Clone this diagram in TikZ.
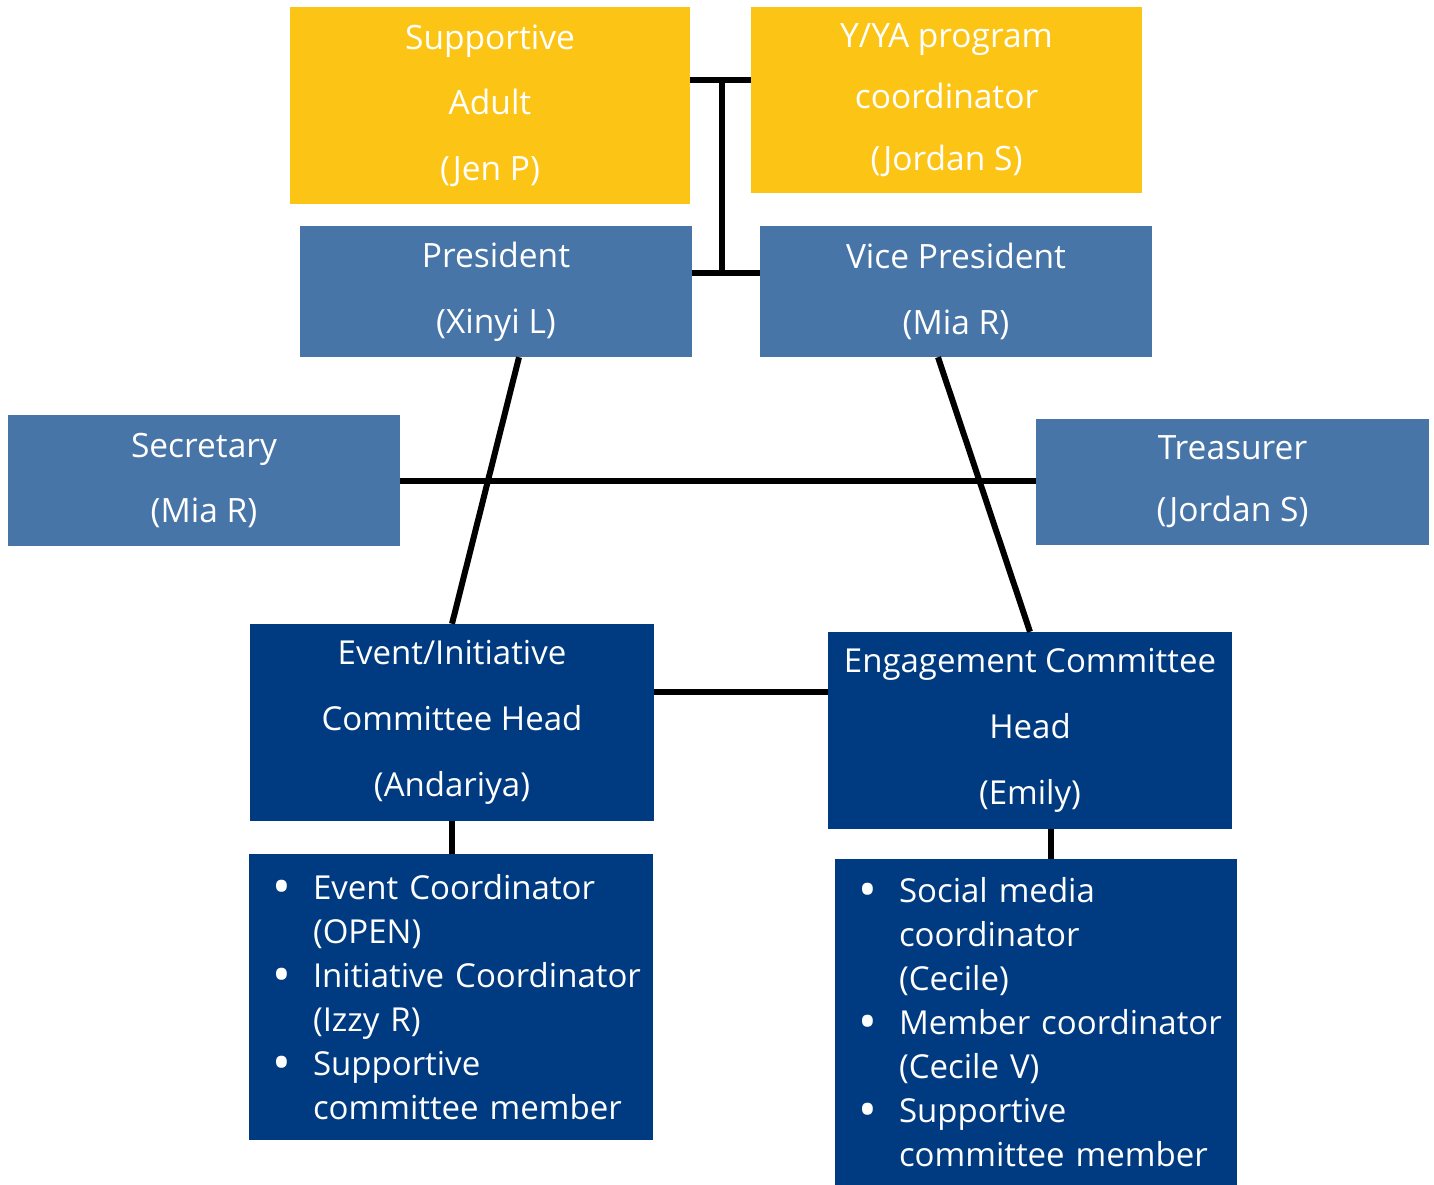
\documentclass[tikz,border=0pt]{standalone}
\usepackage{fontspec}
\setmainfont{Open Sans}
\usetikzlibrary{calc}
\definecolor{gold}{RGB}{252,197,22}
\definecolor{midblue}{RGB}{72,117,168}
\definecolor{darkblue}{RGB}{0,59,130}
\newcommand{\bigdot}{\smash{\makebox[0pt][c]{\raisebox{-5pt}{\fontsize{50}{50}\selectfont •}}}}
\newcommand{\bl}[1]{\mbox{\makebox[37pt][l]{\hspace*{6pt}\bigdot}#1}}
\newcommand{\cl}[1]{\mbox{\hspace*{37pt}#1}}
\tikzset{
  box/.style={rectangle, inner sep=0pt, text=white, align=center},
  goldbox/.style={box, fill=gold},
  midbox/.style={box, fill=midblue},
  darkbox/.style={box, fill=darkblue},
  listbox/.style={rectangle, fill=darkblue, text=white, inner ysep=0pt, inner xsep=27pt, align=left},
  conn/.style={line width=6pt, line cap=butt, draw=black}
}
\begin{document}
\begin{tikzpicture}[x=1pt, y=-1pt]
\useasboundingbox (0,0) rectangle (1434,1185);
\fill[white] (0,0) rectangle (1434,1185);

\node[goldbox, minimum width=400pt, minimum height=197pt, font=\fontsize{33.5}{65.5}\selectfont] (sa) at (490,105.5) {Supportive\\Adult\\(Jen P)};
\node[goldbox, minimum width=391pt, minimum height=186pt, font=\fontsize{33.5}{61.5}\selectfont] (ya) at (946.5,100) {Y/YA program\\coordinator\\(Jordan S)};
\node[midbox, minimum width=392pt, minimum height=131pt, font=\fontsize{33.5}{66}\selectfont] (pres) at (496,291.5) {President\\(Xinyi L)};
\node[midbox, minimum width=392pt, minimum height=131pt, font=\fontsize{33.5}{66}\selectfont] (vp) at (956,291.5) {Vice President\\(Mia R)};
\node[midbox, minimum width=392pt, minimum height=131pt, font=\fontsize{33.5}{65}\selectfont] (sec) at (204,480.5) {Secretary\\(Mia R)};
\node[midbox, minimum width=393pt, minimum height=126pt, font=\fontsize{33.5}{62}\selectfont] (tre) at (1232.5,482) {Treasurer\\(Jordan S)};
\node[darkbox, minimum width=404pt, minimum height=197pt, font=\fontsize{33}{66}\selectfont] (ev) at (452,722.5) {Event/Initiative\\Committee Head\\(Andariya)};
\node[darkbox, minimum width=404pt, minimum height=197pt, font=\fontsize{33}{66}\selectfont] (en) at (1030,730.5) {Engagement Committee\\Head\\(Emily)};
\node[listbox, text width=350pt, minimum height=286pt, font=\fontsize{33}{44}\selectfont] (evl) at (451,997)
  {\bl{Event Coordinator}\\\cl{(OPEN)}\\\bl{Initiative Coordinator}\\\cl{(Izzy R)}\\\bl{Supportive}\\\cl{committee member}};
\node[listbox, text width=348pt, minimum height=326pt, font=\fontsize{33}{44}\selectfont] (enl) at (1036,1022)
  {\bl{Social media}\\\cl{coordinator}\\\cl{(Cecile)}\\\bl{Member coordinator}\\\cl{(Cecile V)}\\\bl{Supportive}\\\cl{committee member}};

\coordinate (top) at (722,80);
\coordinate (mid) at (722,273);
\coordinate (hl) at (740,692);
\coordinate (vl) at (1051,0);

\draw[conn] (sa.east |- top) -- (ya.west |- top);
\draw[conn] (top) -- (mid);
\draw[conn] (pres.east |- mid) -- (vp.west |- mid);
\draw[conn] ($(pres.south)+(23,0)$) -- (ev.north);
\draw[conn] ($(vp.south)+(-18,0)$) -- (en.north);
\draw[conn] (sec.east) -- (sec.east -| tre.west);
\draw[conn] (ev.east |- hl) -- (en.west |- hl);
\draw[conn] (ev.south) -- (ev.south |- evl.north);
\draw[conn] (en.south -| vl) -- (enl.north -| vl);
\end{tikzpicture}
\end{document}
